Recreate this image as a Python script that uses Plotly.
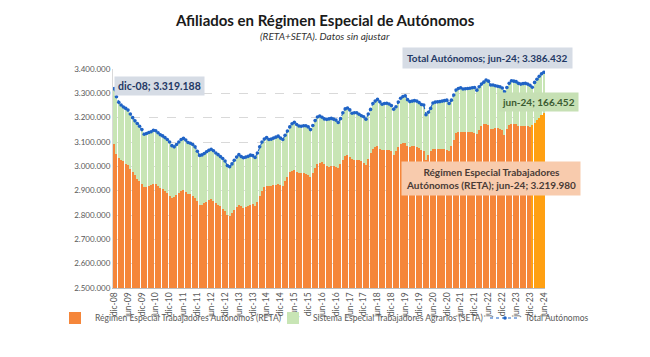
import plotly.graph_objects as go

# Monthly values, dic-08 ... jun-24 (thousands of affiliates)
total_k = [
    3319.188,
    3286, 3263, 3252, 3244, 3238, 3231, 3215, 3200, 3187, 3176, 3165, 3151,
    3132, 3135, 3139, 3142, 3148, 3146, 3138, 3130, 3125, 3118, 3110, 3100,
    3085, 3080, 3090, 3100, 3110, 3115, 3108, 3098, 3095, 3090, 3080, 3062,
    3045, 3047, 3053, 3060, 3066, 3070, 3064, 3055, 3048, 3040, 3032, 3022,
    3003, 2998, 3010, 3025, 3038, 3048, 3040, 3035, 3038, 3041, 3046, 3044,
    3036, 3055, 3080, 3100, 3112, 3118, 3110, 3112, 3116, 3120, 3124, 3116,
    3110, 3128, 3145, 3162, 3175, 3181, 3172, 3166, 3165, 3167, 3167, 3162,
    3151, 3168, 3188, 3203, 3207, 3202, 3195, 3193, 3195, 3197, 3194, 3190,
    3180, 3196, 3220, 3236, 3240, 3232, 3218, 3220, 3220, 3214, 3208, 3204,
    3194, 3215, 3234, 3258, 3268, 3275, 3265, 3255, 3258, 3259, 3256, 3250,
    3235, 3245, 3264, 3280, 3287, 3290, 3274, 3266, 3268, 3270, 3268, 3262,
    3254, 3252, 3212, 3222, 3238, 3260, 3264, 3265, 3266, 3268, 3270, 3272,
    3258, 3272, 3293, 3314, 3320, 3323, 3318, 3319, 3320, 3321, 3323, 3324,
    3313, 3327, 3338, 3346, 3355, 3350, 3334, 3334, 3331, 3329, 3327, 3322,
    3306, 3324, 3341, 3352, 3350, 3348, 3341, 3338, 3340, 3341, 3338, 3333,
    3325, 3345, 3358, 3370, 3380, 3386.432,
]

reta_k = [
    3090,
    3052, 3035, 3028, 3020, 3010, 3005, 2988, 2975, 2963, 2950, 2938, 2928,
    2914, 2916, 2919, 2922, 2928, 2926, 2918, 2910, 2905, 2898, 2890, 2880,
    2870, 2872, 2882, 2890, 2898, 2902, 2895, 2888, 2885, 2878, 2870, 2858,
    2840, 2843, 2848, 2855, 2861, 2865, 2858, 2848, 2843, 2835, 2826, 2818,
    2800, 2797, 2808, 2822, 2833, 2840, 2835, 2830, 2833, 2836, 2842, 2845,
    2838, 2855, 2880, 2900, 2915, 2921, 2918, 2920, 2923, 2925, 2926, 2925,
    2918, 2940, 2958, 2975, 2982, 2986, 2978, 2972, 2971, 2973, 2970, 2966,
    2956, 2972, 2992, 3008, 3015, 3016, 3008, 3002, 2998, 3000, 3000, 2998,
    2994, 3008, 3028, 3042, 3045, 3040, 3030, 3027, 3028, 3026, 3020, 3015,
    3005, 3030, 3056, 3070, 3078, 3082, 3072, 3068, 3068, 3068, 3066, 3062,
    3045, 3065, 3080, 3092, 3096, 3094, 3085, 3080, 3082, 3082, 3080, 3075,
    3068, 3062, 3027, 3045, 3063, 3070, 3071, 3072, 3070, 3072, 3070, 3068,
    3063, 3082, 3107, 3135, 3141, 3141, 3140, 3142, 3142, 3141, 3140, 3139,
    3134, 3150, 3166, 3172, 3175, 3168, 3154, 3153, 3156, 3157, 3154, 3150,
    3128, 3155, 3168, 3175, 3176, 3173, 3165, 3164, 3165, 3166, 3165, 3160,
    3168, 3180, 3190, 3200, 3210, 3219.980,
]

tick_labels = [
    "dic-08", "jun-09", "dic-09", "jun-10", "dic-10", "jun-11", "dic-11", "jun-12",
    "dic-12", "jun-13", "dic-13", "jun-14", "dic-14", "jun-15", "dic-15", "jun-16",
    "dic-16", "jun-17", "dic-17", "jun-18", "dic-18", "jun-19", "dic-19", "jun-20",
    "dic-20", "jun-21", "dic-21", "jun-22", "dic-22", "jun-23", "dic-23", "jun-24",
]

n = len(total_k)
x = list(range(n))
total = [round(v * 1000) for v in total_k]
reta = [round(v * 1000) for v in reta_k]
seta = [t - r for t, r in zip(total, reta)]

n_highlight = 6
reta_colors = ["#F5863A"] * (n - n_highlight) + ["#FFA012"] * n_highlight
reta_width = [0.5] * (n - n_highlight) + [0.95] * n_highlight

FONT = "Lato"

fig = go.Figure()
fig.add_trace(go.Bar(
    x=x, y=reta, name="Régimen Especial Trabajadores Autónomos (RETA)",
    marker=dict(color=reta_colors, line=dict(width=0)), width=reta_width,
    legend="legend",
))
fig.add_trace(go.Bar(
    x=x, y=seta, name="Sistema Especial Trabajadores Agrarios (SETA)",
    marker=dict(color="#C8E5B5", line=dict(width=0)), width=0.5,
    legend="legend2",
))
fig.add_trace(go.Scatter(
    x=x, y=total, name="Total Autónomos", mode="lines+markers",
    line=dict(color="#1F63C6", width=1.1, dash="dot"),
    marker=dict(color="#1F63C6", size=3.6),
    legend="legend3",
))

L, R, T, B = 113, 545, 69, 288
W, H = 650, 357

def px(xp):
    return (xp - L) / (R - L)

def py(yp):
    return (B - yp) / (B - T)

ann = []
ann.append(dict(xref="paper", yref="paper", x=px(325), y=py(20),
                text="<b>Afiliados en Régimen Especial de Autónomos</b>",
                showarrow=False, font=dict(family=FONT, size=15, color="#1a1a1a"),
                xanchor="center", yanchor="middle"))
ann.append(dict(xref="paper", yref="paper", x=px(325), y=py(36),
                text="<i>(RETA+SETA). Datos sin ajustar</i>",
                showarrow=False, font=dict(family=FONT, size=10, color="#333333"),
                xanchor="center", yanchor="middle"))
ann.append(dict(xref="paper", yref="paper", x=px(159), y=py(86),
                text="<b>dic-08; 3.319.188</b>", showarrow=False,
                bgcolor="#D6DCE5", borderpad=3,
                font=dict(family=FONT, size=10.5, color="#1F3864"),
                xanchor="center", yanchor="middle"))
ann.append(dict(xref="paper", yref="paper", x=px(487), y=py(58),
                text="<b>Total Autónomos; jun-24; 3.386.432</b>", showarrow=False,
                bgcolor="#D6DCE5", borderpad=4,
                font=dict(family=FONT, size=10, color="#1F3864"),
                xanchor="center", yanchor="middle"))
ann.append(dict(xref="paper", yref="paper", x=px(538), y=py(102),
                text="<b>jun-24; 166.452</b>", showarrow=False,
                bgcolor="#C6E0B4", borderpad=3,
                font=dict(family=FONT, size=10, color="#3B5A30"),
                xanchor="center", yanchor="middle"))
ann.append(dict(xref="paper", yref="paper", x=px(491), y=py(178),
                text="<b>Régimen Especial Trabajadores<br>Autónomos (RETA); jun-24; 3.219.980</b>",
                showarrow=False, bgcolor="#F8CBAD", borderpad=4,
                font=dict(family=FONT, size=10, color="#4A3B36"),
                xanchor="center", yanchor="middle"))

leg_common = dict(orientation="h", yanchor="middle", xanchor="left",
                  font=dict(family=FONT, size=8.5, color="#595959"),
                  itemwidth=30, bgcolor="rgba(0,0,0,0)")

fig.update_layout(
    width=W, height=H,
    margin=dict(l=L, r=W - R, t=T, b=H - B, autoexpand=False),
    paper_bgcolor="white", plot_bgcolor="white",
    barmode="stack", bargap=0.4,
    separators=",.",
    font=dict(family=FONT, color="#595959"),
    showlegend=True,
    legend=dict(x=px(55), y=py(318), **leg_common),
    legend2=dict(x=px(273), y=py(318), **leg_common),
    legend3=dict(x=px(485), y=py(318), **leg_common),
    annotations=ann,
)
fig.update_xaxes(
    range=[-0.5, n - 0.5], tickmode="array",
    tickvals=list(range(0, n, 6)), ticktext=tick_labels,
    tickangle=-90, tickfont=dict(family=FONT, size=8.5, color="#595959"),
    showgrid=False, showline=True, linecolor="#BFBFBF", ticks="", zeroline=False,
)
fig.update_yaxes(
    range=[2500000, 3400000], tickmode="linear", tick0=2500000, dtick=100000,
    tickformat=",d", tickfont=dict(family=FONT, size=8, color="#595959"),
    showgrid=True, gridcolor="#D9D9D9", griddash="dash", gridwidth=1,
    showline=True, linecolor="#D9D9D9", zeroline=False, ticks="",
)

fig.write_html("out.html", config={"displayModeBar": False},
               post_script="document.body.style.margin='0';")
